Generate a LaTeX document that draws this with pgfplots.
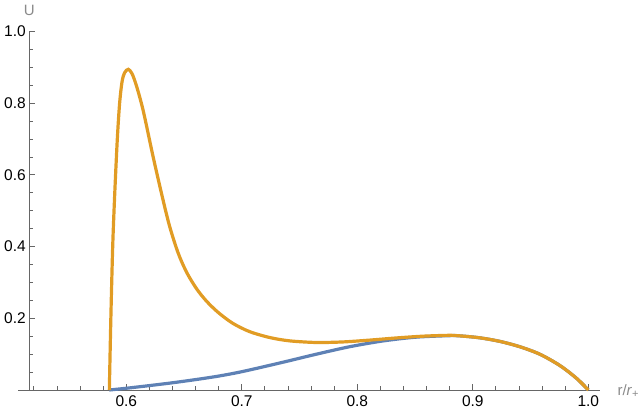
\documentclass[border=0pt]{standalone}
\usepackage{fontspec}
\setmainfont{Liberation Sans}
\usepackage{pgfplots}
\pgfplotsset{compat=1.18}
\definecolor{morange}{HTML}{E19C24}
\definecolor{mblue}{HTML}{5E81B5}
\definecolor{axgray}{HTML}{666666}
\definecolor{labgray}{HTML}{8A8A8A}
\begin{document}
\begin{tikzpicture}
\begin{axis}[
  scale only axis, width=570.7pt, height=358.5pt,
  xmin=0.516, xmax=1.0101, ymin=0, ymax=1.0,
  axis lines=left,
  axis line style={-, axgray, line width=0.9pt},
  clip=false,
  xtick={0.6,0.7,0.8,0.9,1.0},
  ytick={0.2,0.4,0.6,0.8,1.0},
  minor xtick={0.52,0.54,0.56,0.58,0.62,0.64,0.66,0.68,0.72,0.74,0.76,0.78,0.82,0.84,0.86,0.88,0.92,0.94,0.96,0.98},
  minor ytick={0.05,0.1,0.15,0.25,0.3,0.35,0.45,0.5,0.55,0.65,0.7,0.75,0.85,0.9,0.95},
  tick align=inside,
  major tick length=6pt, minor tick length=4pt,
  every tick/.style={axgray, line width=0.9pt},
  ticklabel style={font=\fontsize{15.5}{18}\selectfont, text=black},
  xticklabel style={yshift=-2.5pt},
  /pgf/number format/.cd, fixed, fixed zerofill, precision=1, assume math mode=true,
  /pgfplots/.cd,
  every axis y label/.style={at={(rel axis cs:0,1)}, anchor=base, yshift=16pt, font=\fontsize{15}{18}\selectfont, text=labgray},
  every axis x label/.style={at={(rel axis cs:1,0)}, anchor=base west, xshift=14pt, yshift=-5pt, font=\fontsize{15}{18}\selectfont, text=labgray},
  ylabel={U},
  xlabel={r/\textit{r}\raisebox{-0.35ex}{\fontsize{11}{12}\selectfont +}},
]
\draw[axgray, line width=0.9pt] (axis cs:0.5065,0) -- (axis cs:0.516,0);
\addplot[mblue, line width=3.2pt, smooth] coordinates {
(0.5853,0) (0.6003,0.0050) (0.6205,0.0125) (0.6407,0.0205) (0.661,0.0295) (0.6811,0.0395)
(0.7013,0.0520) (0.735,0.077) (0.764,0.0995) (0.793,0.1205) (0.8215,0.1365) (0.85,0.1472)
(0.879,0.1515) (0.8889,0.151) (0.9062,0.1455) (0.9236,0.1355) (0.9409,0.1205) (0.9582,0.0995)
(0.9755,0.068) (0.99,0.032) (1.0,0)
};
\addplot[morange, line width=3.2pt, smooth] coordinates {
(0.5853,0) (0.5866,0.2) (0.5882,0.4) (0.5900,0.55) (0.5922,0.7) (0.5942,0.8)
(0.5963,0.86) (0.5985,0.885) (0.6017,0.8945) (0.6050,0.882) (0.6090,0.846) (0.6147,0.778)
(0.6234,0.6476) (0.6320,0.5272) (0.6378,0.453) (0.6450,0.381) (0.6523,0.3277)
(0.6610,0.2816) (0.6696,0.2472) (0.6797,0.2159) (0.692,0.1864) (0.7066,0.163) (0.724,0.1465)
(0.741,0.1372) (0.764,0.1326) (0.787,0.134) (0.81,0.139) (0.833,0.145) (0.856,0.150)
(0.879,0.1525) (0.8889,0.151) (0.9062,0.1455) (0.9236,0.1355) (0.9409,0.1205) (0.9582,0.0995)
(0.9755,0.068) (0.99,0.032) (1.0,0)
};
\end{axis}
\pgfresetboundingbox
\path ([shift={(-29.3pt,-23pt)}]current axis.south west) rectangle ([shift={(39pt,31.5pt)}]current axis.north east);
\end{tikzpicture}
\end{document}
